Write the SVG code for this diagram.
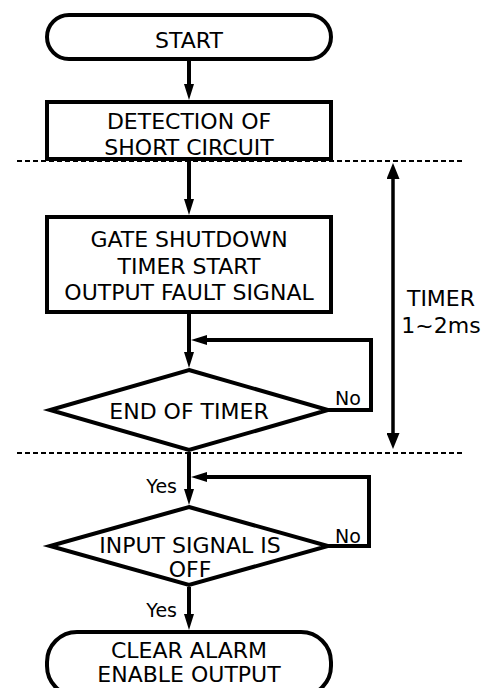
<svg xmlns="http://www.w3.org/2000/svg" width="492" height="688" viewBox="0 0 492 688">
<style>
.node{fill:#fff;stroke:#000;stroke-width:4;stroke-linejoin:miter}
.t{font-family:"DejaVu Sans","Verdana",sans-serif;font-size:22px;fill:#000;text-anchor:middle}
.s{font-family:"DejaVu Sans","Verdana",sans-serif;font-size:19px;fill:#000}
.c{fill:none;stroke:#000;stroke-width:4}
.dash{fill:none;stroke:#000;stroke-width:2;stroke-dasharray:5 3}
</style>
<defs>
<marker id="ah" viewBox="0 0 16 10" refX="6" refY="5" markerWidth="16" markerHeight="10" markerUnits="userSpaceOnUse" orient="auto">
<path d="M0,0 L16,5 L0,10 z" fill="#000"/>
</marker>
<marker id="ah2" viewBox="0 0 16 13" refX="6" refY="6.5" markerWidth="16" markerHeight="13" markerUnits="userSpaceOnUse" orient="auto-start-reverse">
<path d="M0,0 L16,6.5 L0,13 z" fill="#000"/>
</marker>
</defs>
<g id="guides">
<line class="dash" x1="17" y1="161" x2="463" y2="161"/>
<line class="dash" x1="17" y1="453" x2="463" y2="453"/>
</g>
<g id="connectors">
<line class="c" x1="189" y1="61" x2="189" y2="90" marker-end="url(#ah)"/>
<line class="c" x1="189" y1="161" x2="189" y2="205" marker-end="url(#ah)"/>
<line class="c" x1="189" y1="314" x2="189" y2="358" marker-end="url(#ah)"/>
<polyline class="c" points="328,410 371,410 371,340 201,340" marker-end="url(#ah)"/>
<line class="c" x1="189" y1="452" x2="189" y2="495" marker-end="url(#ah)"/>
<polyline class="c" points="328,546 369,546 369,477 201,477" marker-end="url(#ah)"/>
<line class="c" x1="189" y1="587" x2="189" y2="620" marker-end="url(#ah)"/>
<line x1="393" y1="173" x2="393" y2="439" stroke="#000" stroke-width="3.5" marker-start="url(#ah2)" marker-end="url(#ah2)"/>
</g>
<g id="start">
<rect class="node" x="47" y="15" width="284" height="44" rx="22" ry="22"/>
<text class="t" x="189" y="48">START</text>
</g>
<g id="detection">
<rect class="node" x="47" y="102" width="284" height="57"/>
<text class="t" x="189" y="128.5">DETECTION OF</text>
<text class="t" x="189" y="154.5">SHORT CIRCUIT</text>
</g>
<g id="gate">
<rect class="node" x="47" y="217" width="284" height="95"/>
<text class="t" x="189" y="247">GATE SHUTDOWN</text>
<text class="t" x="189" y="273.5">TIMER START</text>
<text class="t" x="189" y="299.5">OUTPUT FAULT SIGNAL</text>
</g>
<g id="end-of-timer">
<polygon class="node" points="189,370 328,410 189,450 50,410"/>
<text class="t" x="189" y="418.5">END OF TIMER</text>
<text class="s" x="335" y="405">No</text>
</g>
<g id="input-off">
<polygon class="node" points="189,507 328,546 189,585 50,546"/>
<text class="t" x="190" y="552.5">INPUT SIGNAL IS</text>
<text class="t" x="190" y="576.5">OFF</text>
<text class="s" x="335" y="543">No</text>
<text class="s" x="177" y="493" text-anchor="end">Yes</text>
<text class="s" x="177" y="617" text-anchor="end">Yes</text>
</g>
<g id="clear">
<rect class="node" x="47" y="632" width="284" height="64" rx="30" ry="30"/>
<text class="t" x="189" y="658">CLEAR ALARM</text>
<text class="t" x="189" y="682">ENABLE OUTPUT</text>
</g>
<g id="timer-label">
<text class="t" x="441" y="306">TIMER</text>
<text class="t" x="441" y="332.5">1~2ms</text>
</g>
</svg>
